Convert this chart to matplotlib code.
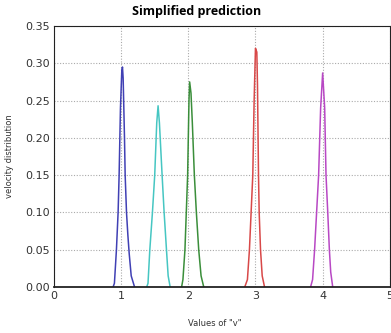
import numpy as np
import matplotlib
matplotlib.use("Agg")
import matplotlib.pyplot as plt

blue_x = [0.88, 0.90, 0.93, 0.955, 0.97, 0.99, 1.01, 1.02, 1.03, 1.05, 1.06, 1.08, 1.10, 1.12, 1.15, 1.20]
blue_y = [0.0, 0.005, 0.05, 0.10, 0.15, 0.24, 0.29, 0.295, 0.28, 0.20, 0.15, 0.10, 0.07, 0.045, 0.015, 0.0]

cyan_x = [1.38, 1.40, 1.427, 1.466, 1.50, 1.53, 1.55, 1.57, 1.61, 1.64, 1.675, 1.70, 1.73]
cyan_y = [0.0, 0.005, 0.05, 0.10, 0.15, 0.22, 0.243, 0.22, 0.15, 0.10, 0.05, 0.015, 0.0]

green_x = [1.90, 1.92, 1.95, 1.97, 1.99, 2.01, 2.02, 2.04, 2.06, 2.09, 2.12, 2.155, 2.19, 2.23]
green_y = [0.0, 0.01, 0.05, 0.10, 0.15, 0.25, 0.275, 0.26, 0.22, 0.15, 0.10, 0.05, 0.015, 0.0]

red_x = [2.84, 2.88, 2.91, 2.935, 2.96, 2.98, 3.00, 3.02, 3.03, 3.045, 3.055, 3.075, 3.10, 3.135]
red_y = [0.0, 0.01, 0.05, 0.10, 0.15, 0.25, 0.32, 0.315, 0.27, 0.15, 0.10, 0.05, 0.015, 0.0]

mag_x = [3.82, 3.85, 3.88, 3.91, 3.94, 3.97, 4.00, 4.03, 4.05, 4.076, 4.10, 4.12, 4.15]
mag_y = [0.0, 0.01, 0.05, 0.10, 0.15, 0.24, 0.287, 0.24, 0.15, 0.10, 0.05, 0.02, 0.0]

fig = plt.figure(figsize=(3.91, 3.33), dpi=100)
ax = fig.add_axes([0.138, 0.138, 0.859, 0.784])

ax.plot(blue_x, blue_y, color='#4040b4', lw=1.1)
ax.plot(cyan_x, cyan_y, color='#46c6c2', lw=1.1)
ax.plot(green_x, green_y, color='#3a8e3a', lw=1.1)
ax.plot(red_x, red_y, color='#d84848', lw=1.1)
ax.plot(mag_x, mag_y, color='#b848c4', lw=1.1)

ax.set_xlim(0, 5)
ax.set_ylim(0, 0.35)
ax.set_xticks([0, 1, 2, 3, 4, 5])
ax.set_yticks(np.arange(0, 0.351, 0.05))
ax.set_yticklabels(['%.2f' % v for v in np.arange(0, 0.351, 0.05)])
ax.tick_params(labelsize=8, length=0, pad=3, colors='#333333')
ax.grid(True, linestyle=(0, (1, 1.5)), color='#aaaaaa', lw=0.8)
ax.set_axisbelow(True)
for s in ax.spines.values():
    s.set_color('#222222')
    s.set_linewidth(0.8)
ax.spines['bottom'].set_linewidth(1.3)

fig.text(197 / 391, 1 - 11 / 333, 'Simplified prediction', ha='center', va='center',
         fontsize=9, fontweight='bold', family='Open Sans')
fig.text(10 / 391, 1 - 156 / 333, 'velocity distribution', ha='center', va='center',
         rotation=90, fontsize=6, color='#333333')
fig.text(215 / 391, 1 - 324 / 333, 'Values of "v"', ha='center', va='center',
         fontsize=6, color='#333333')

fig.savefig('out.png', dpi=100)
